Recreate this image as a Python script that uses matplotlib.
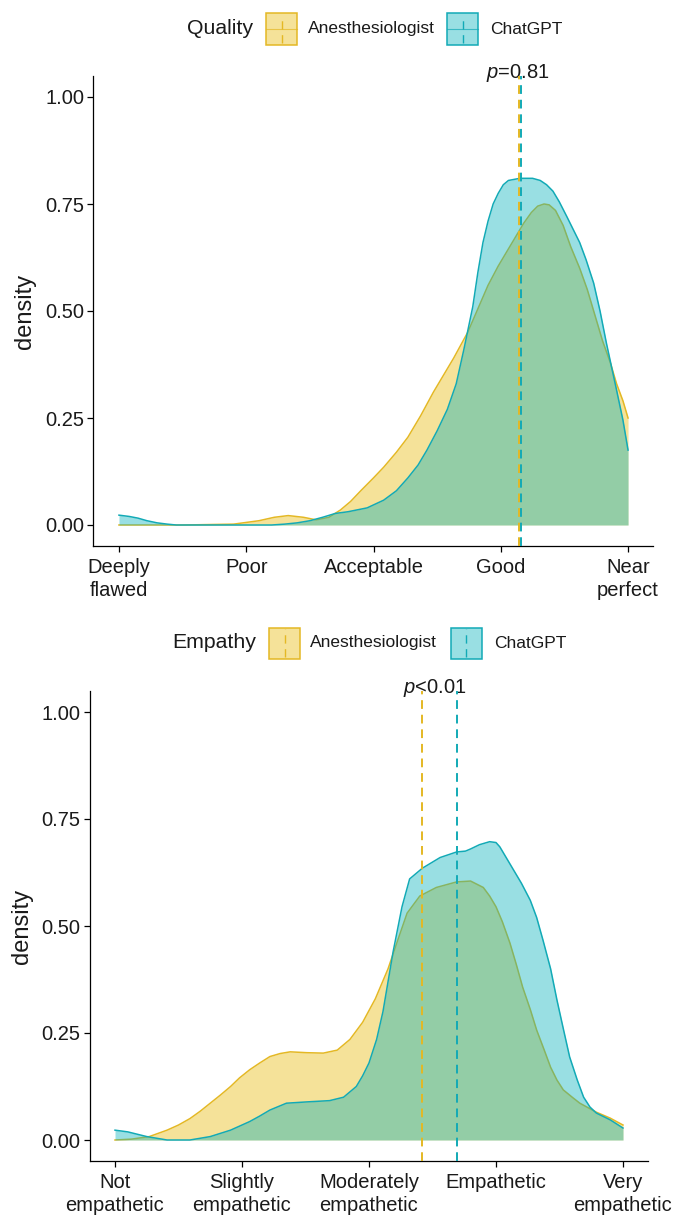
import matplotlib
matplotlib.use("Agg")
import matplotlib.pyplot as plt
from matplotlib.patches import Rectangle
from matplotlib.lines import Line2D

# ---- data ----
GROUPS = ["Anesthesiologist", "ChatGPT"]

quality_ticks = ["Deeply\nflawed", "Poor", "Acceptable", "Good", "Near\nperfect"]
empathy_ticks = ["Not\nempathetic", "Slightly\nempathetic", "Moderately\nempathetic", "Empathetic", "Very\nempathetic"]
y_ticks = [0.0, 0.25, 0.50, 0.75, 1.00]

quality_anes_x = [1.0, 1.5, 1.9, 2.1, 2.22, 2.33, 2.45, 2.55, 2.65, 2.74, 2.82, 2.9, 3.0, 3.08, 3.18, 3.27,
                  3.37, 3.47, 3.55, 3.63, 3.74, 3.82, 3.9, 3.98, 4.05, 4.12, 4.18, 4.24, 4.29, 4.34, 4.38,
                  4.43, 4.49, 4.55, 4.62, 4.68, 4.74, 4.8, 4.86, 4.91, 4.96, 5.0]
quality_anes_y = [0.0, 0.0, 0.002, 0.01, 0.018, 0.022, 0.018, 0.012, 0.018, 0.035, 0.055, 0.08, 0.11, 0.135,
                  0.17, 0.205, 0.255, 0.31, 0.35, 0.39, 0.45, 0.505, 0.56, 0.605, 0.64, 0.675, 0.705, 0.73,
                  0.745, 0.75, 0.748, 0.735, 0.70, 0.65, 0.6, 0.55, 0.49, 0.43, 0.38, 0.33, 0.29, 0.25]

quality_gpt_x = [1.0, 1.08, 1.15, 1.22, 1.3, 1.38, 1.45, 2.2, 2.3, 2.4, 2.5, 2.6, 2.7, 2.8, 2.95, 3.08, 3.18,
                 3.27, 3.35, 3.42, 3.5, 3.58, 3.65, 3.71, 3.78, 3.82, 3.86, 3.9, 3.94, 3.98, 4.02, 4.06,
                 4.15, 4.25, 4.31, 4.36, 4.41, 4.46, 4.52, 4.57, 4.62, 4.67, 4.73, 4.78, 4.83, 4.87, 4.91,
                 4.96, 5.0]
quality_gpt_y = [0.023, 0.02, 0.016, 0.01, 0.005, 0.002, 0.0, 0.0, 0.002, 0.005, 0.01, 0.018, 0.027, 0.031,
                 0.04, 0.058, 0.08, 0.11, 0.14, 0.175, 0.22, 0.27, 0.33, 0.41, 0.51, 0.59, 0.66, 0.71,
                 0.75, 0.775, 0.795, 0.805, 0.81, 0.81, 0.805, 0.795, 0.78, 0.755, 0.72, 0.69, 0.66, 0.62,
                 0.565, 0.5, 0.425, 0.37, 0.315, 0.245, 0.175]

empathy_anes_x = [1.0, 1.13, 1.27, 1.41, 1.5, 1.59, 1.67, 1.75, 1.83, 1.91, 1.98, 2.06, 2.14, 2.22, 2.3,
                  2.38, 2.51, 2.64, 2.75, 2.85, 2.95, 3.05, 3.15, 3.23, 3.3, 3.4, 3.53, 3.69, 3.8, 3.9,
                  3.95, 4.0, 4.05, 4.11, 4.16, 4.21, 4.27, 4.32, 4.38, 4.43, 4.48, 4.53, 4.6, 4.66, 4.79,
                  4.9, 5.0]
empathy_anes_y = [0.0, 0.002, 0.008, 0.023, 0.035, 0.05, 0.067, 0.086, 0.105, 0.125, 0.145, 0.164, 0.18,
                  0.195, 0.202, 0.206, 0.204, 0.203, 0.21, 0.235, 0.275, 0.33, 0.40, 0.47, 0.53, 0.57,
                  0.59, 0.603, 0.605, 0.59, 0.57, 0.545, 0.51, 0.46, 0.41, 0.357, 0.305, 0.257, 0.21,
                  0.17, 0.14, 0.117, 0.1, 0.086, 0.065, 0.051, 0.035]

empathy_gpt_x = [1.0, 1.1, 1.25, 1.41, 1.59, 1.75, 1.91, 2.06, 2.14, 2.22, 2.35, 2.51, 2.69, 2.8, 2.9, 2.95,
                 3.0, 3.06, 3.11, 3.15, 3.19, 3.23, 3.26, 3.32, 3.42, 3.56, 3.69, 3.76, 3.8, 3.87, 3.95,
                 4.0, 4.03, 4.08, 4.14, 4.2, 4.27, 4.32, 4.37, 4.43, 4.48, 4.53, 4.58, 4.64, 4.69, 4.74,
                 4.79, 4.9, 5.0]
empathy_gpt_y = [0.023, 0.019, 0.008, 0.0, 0.0, 0.008, 0.023, 0.043, 0.056, 0.07, 0.086, 0.089, 0.092, 0.1,
                 0.125, 0.15, 0.18, 0.235, 0.30, 0.37, 0.44, 0.5, 0.545, 0.61, 0.635, 0.66, 0.673, 0.675,
                 0.68, 0.69, 0.697, 0.695, 0.685, 0.66, 0.63, 0.6, 0.56, 0.52, 0.467, 0.4, 0.327, 0.26,
                 0.194, 0.14, 0.10, 0.077, 0.063, 0.047, 0.028]

quality_means = [4.145, 4.16]
empathy_means = [3.415, 3.69]
quality_p = "$p$=0.81"
empathy_p = "$p$<0.01"
quality_p_x = 4.13
empathy_p_x = 3.52

# ---- style ----
W, H = 685, 1229
LINE = {"Anesthesiologist": "#E4B824", "ChatGPT": "#12AAB6"}
FILL = {"Anesthesiologist": "#E7B800", "ChatGPT": "#00AFBB"}
FILL_ALPHA = 0.4
TEXT_COLOR = "#1a1a1a"
TICK_SIZE = 14.5
LEGEND_TITLE_SIZE = 15.3
LEGEND_LABEL_SIZE = 12.5

plt.rcParams.update({
    "font.family": ["Liberation Sans", "DejaVu Sans"],
    "mathtext.fontset": "custom",
    "mathtext.it": "Liberation Sans:italic",
    "mathtext.rm": "Liberation Sans",
})


def fx(px):
    return px / W


def fy(py):
    return 1 - py / H


def draw_panel(ax, xa, ya, xg, yg, means, tick_labels, p_label, p_x, label_x):
    # yellow first, teal over it, so the teal fill tints the yellow outline
    for i, (name, xs, ys) in enumerate([("Anesthesiologist", xa, ya), ("ChatGPT", xg, yg)]):
        ax.fill_between(xs, 0, ys, color=FILL[name], alpha=FILL_ALPHA, linewidth=0, zorder=2 + i * 0.5)
        ax.plot(xs, ys, color=LINE[name], linewidth=1.1, zorder=2.2 + i * 0.5)
    for name, m in zip(GROUPS, means):
        ax.axvline(m, color=LINE[name], linewidth=1.4, linestyle=(0, (4.5, 3)), zorder=4)
    ax.text(p_x, 1.055, p_label, ha="center", va="center", fontsize=TICK_SIZE, color=TEXT_COLOR)

    ax.set_xlim(0.8, 5.2)
    ax.set_ylim(-0.05, 1.05)
    ax.set_xticks(range(1, 6))
    ax.set_xticklabels(tick_labels, fontsize=TICK_SIZE, color=TEXT_COLOR, linespacing=1.3)
    ax.set_yticks(y_ticks)
    ax.set_yticklabels([f"{v:.2f}" for v in y_ticks], fontsize=TICK_SIZE, color=TEXT_COLOR)
    ax.set_ylabel("density", fontsize=17, color=TEXT_COLOR, va="center")
    ax.yaxis.set_label_coords(label_x, 0.5)
    for side in ("top", "right"):
        ax.spines[side].set_visible(False)
    for side in ("left", "bottom"):
        ax.spines[side].set_linewidth(0.9)
        ax.spines[side].set_color("black")
    ax.tick_params(length=4, width=0.9, color="black")
    ax.tick_params(axis="x", pad=4)
    ax.tick_params(axis="y", pad=2.5)


def draw_legend(fig, cy, title, title_x, key_xs, label_xs, cross):
    fig.text(fx(title_x), fy(cy), title, fontsize=LEGEND_TITLE_SIZE, color=TEXT_COLOR,
             ha="left", va="center")
    size = 31
    for name, kx, lx in zip(GROUPS, key_xs, label_xs):
        c = LINE[name]
        fig.add_artist(Rectangle((fx(kx), fy(cy + size / 2)), size / W, size / H, transform=fig.transFigure,
                                 facecolor=FILL[name], alpha=FILL_ALPHA, edgecolor="none"))
        fig.add_artist(Rectangle((fx(kx), fy(cy + size / 2)), size / W, size / H, transform=fig.transFigure,
                                 facecolor="none", edgecolor=c, linewidth=1.1))
        mid = kx + size / 2
        fig.add_artist(Line2D([fx(mid), fx(mid)], [fy(cy + size / 2 - 2), fy(cy - size / 2 + 2)],
                              transform=fig.transFigure, color=c, linewidth=1.0, linestyle=(0, (6, 4))))
        if cross:
            fig.add_artist(Line2D([fx(kx), fx(kx + size)], [fy(cy), fy(cy)],
                                  transform=fig.transFigure, color=c, linewidth=0.8, alpha=0.7))
        fig.text(fx(lx), fy(cy), name, fontsize=LEGEND_LABEL_SIZE, color=TEXT_COLOR, ha="left", va="center")


fig = plt.figure(figsize=(W / 100, H / 100), dpi=100)

ax1 = fig.add_axes([fx(93.5), fy(546.4), (653.5 - 93.5) / W, (546.4 - 75.6) / H])
draw_panel(ax1, quality_anes_x, quality_anes_y, quality_gpt_x, quality_gpt_y,
           quality_means, quality_ticks, quality_p, quality_p_x, (25 - 93.5) / 560)

ax2 = fig.add_axes([fx(89.6), fy(1161.4), (648.4 - 89.6) / W, (1161.4 - 690.6) / H])
draw_panel(ax2, empathy_anes_x, empathy_anes_y, empathy_gpt_x, empathy_gpt_y,
           empathy_means, empathy_ticks, empathy_p, empathy_p_x, (22 - 89.6) / 558.8)

draw_legend(fig, 29, "Quality", 187, [266, 447], [308, 490], cross=True)
draw_legend(fig, 643, "Empathy", 172, [269, 451], [310, 494], cross=False)

fig.savefig("out.png", dpi=100)
